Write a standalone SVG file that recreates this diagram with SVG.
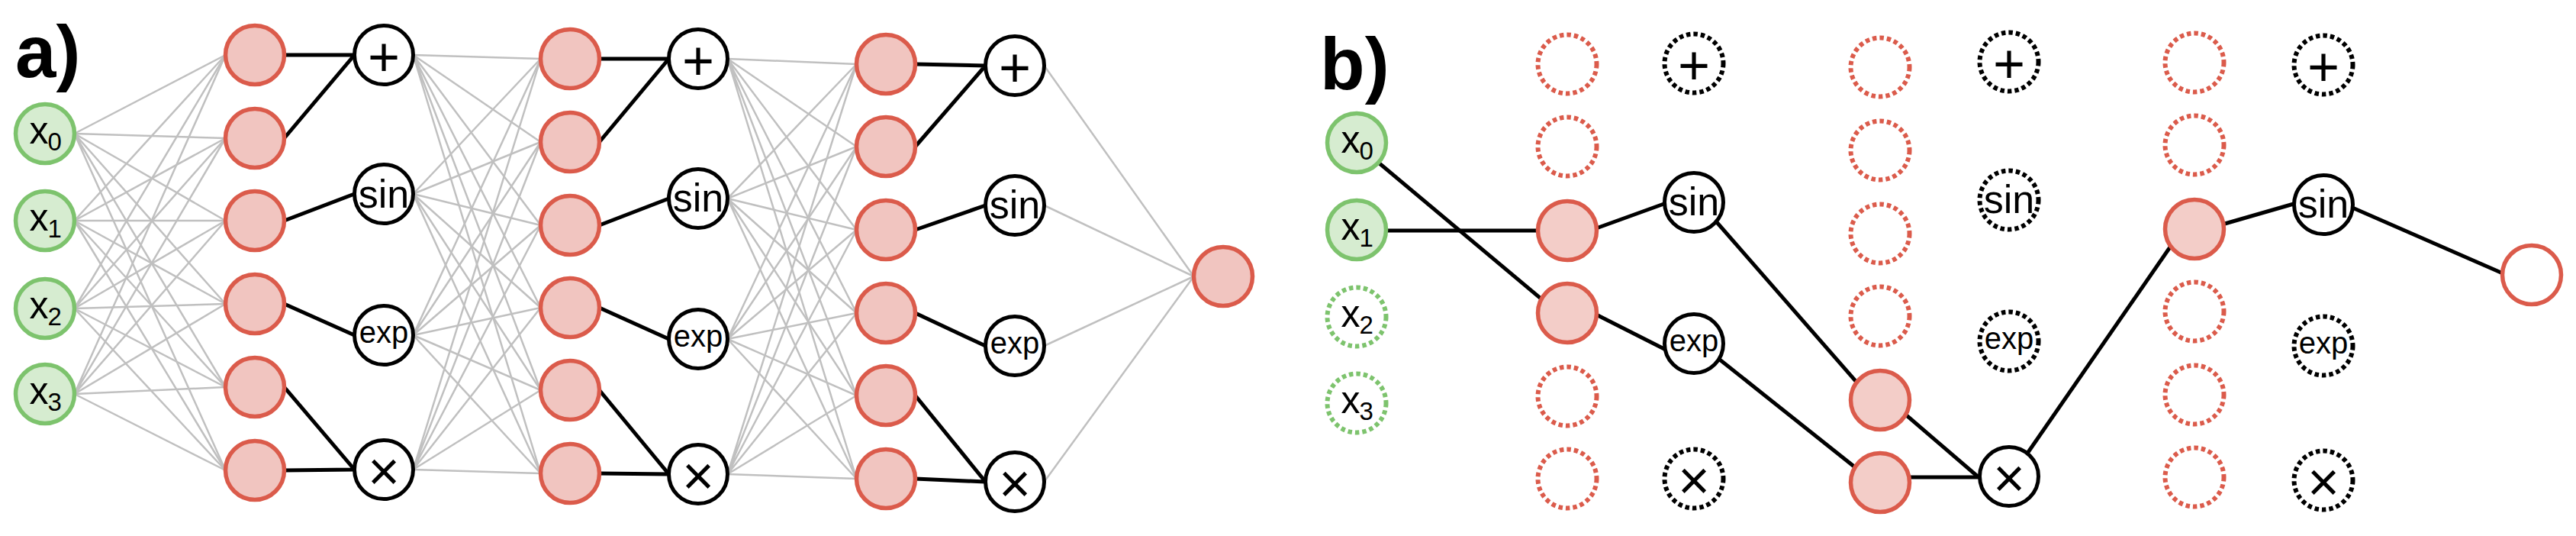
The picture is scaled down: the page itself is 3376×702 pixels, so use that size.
<svg xmlns="http://www.w3.org/2000/svg" width="3376" height="702" viewBox="0 0 3376 702">
<style>
text{font-family:"Liberation Sans",Arial,sans-serif;fill:#000}
.lbl{font-size:96px;font-weight:bold}
.xv{font-size:50px}
.xs{font-size:33px}
.pm{font-size:72px;text-anchor:middle}
.sin{font-size:52px;text-anchor:middle}
.exp{font-size:40px;text-anchor:middle}
.in{fill:#d6ecd0;stroke:#7dc36d;stroke-width:5.5}
.in-off{fill:#fff;stroke:#7dc36d;stroke-width:6;stroke-dasharray:5.5 4}
.hid{fill:#f1c5c0;stroke:#db5b4b;stroke-width:5.5}
.hidb{fill:#f3cdc8;stroke:#db5b4b;stroke-width:5.5}
.hid-off{fill:#fff;stroke:#db5b4b;stroke-width:6;stroke-dasharray:5.5 4}
.op{fill:#fff;stroke:#000;stroke-width:5}
.op-off{fill:#fff;stroke:#000;stroke-width:6;stroke-dasharray:5.5 4}
.out-b{fill:#fff;stroke:#db5b4b;stroke-width:5.5}
.gray{fill:none;stroke:#c0c0c0;stroke-width:2.5}
.blk{fill:none;stroke:#000;stroke-width:5}
</style>

<g id="labels">
<text class="lbl" x="20" y="101">a)</text>
<text class="lbl" x="1730" y="117">b)</text>
</g>

<g id="connectors">
<g id="a-gray">
<path class="gray" d="M97.5 175L295.5 72M97.5 175L295.5 181M97.5 175L295.5 289M97.5 175L295.5 398M97.5 175L295.5 507M97.5 175L295.5 616"/>
<path class="gray" d="M97.5 289L295.5 72M97.5 289L295.5 181M97.5 289L295.5 289M97.5 289L295.5 398M97.5 289L295.5 507M97.5 289L295.5 616"/>
<path class="gray" d="M97.5 404L295.5 72M97.5 404L295.5 181M97.5 404L295.5 289M97.5 404L295.5 398M97.5 404L295.5 507M97.5 404L295.5 616"/>
<path class="gray" d="M97.5 516L295.5 72M97.5 516L295.5 181M97.5 516L295.5 289M97.5 516L295.5 398M97.5 516L295.5 507M97.5 516L295.5 616"/>
<path class="gray" d="M541.5 72L708.5 77M541.5 72L708.5 186M541.5 72L708.5 295M541.5 72L708.5 403M541.5 72L708.5 511M541.5 72L708.5 620"/>
<path class="gray" d="M541.5 254L708.5 77M541.5 254L708.5 186M541.5 254L708.5 295M541.5 254L708.5 403M541.5 254L708.5 511M541.5 254L708.5 620"/>
<path class="gray" d="M541.5 439L708.5 77M541.5 439L708.5 186M541.5 439L708.5 295M541.5 439L708.5 403M541.5 439L708.5 511M541.5 439L708.5 620"/>
<path class="gray" d="M541.5 615L708.5 77M541.5 615L708.5 186M541.5 615L708.5 295M541.5 615L708.5 403M541.5 615L708.5 511M541.5 615L708.5 620"/>
<path class="gray" d="M953.5 77L1122.5 84M953.5 77L1122.5 192M953.5 77L1122.5 301M953.5 77L1122.5 410M953.5 77L1122.5 518M953.5 77L1122.5 627"/>
<path class="gray" d="M953.5 260L1122.5 84M953.5 260L1122.5 192M953.5 260L1122.5 301M953.5 260L1122.5 410M953.5 260L1122.5 518M953.5 260L1122.5 627"/>
<path class="gray" d="M953.5 444L1122.5 84M953.5 444L1122.5 192M953.5 444L1122.5 301M953.5 444L1122.5 410M953.5 444L1122.5 518M953.5 444L1122.5 627"/>
<path class="gray" d="M953.5 621L1122.5 84M953.5 621L1122.5 192M953.5 621L1122.5 301M953.5 621L1122.5 410M953.5 621L1122.5 518M953.5 621L1122.5 627"/>
<path class="gray" d="M1368.5 86L1564.5 362M1368.5 269L1564.5 362M1368.5 453L1564.5 362M1368.5 631L1564.5 362"/>
</g>
<g id="a-black">
<path class="blk" d="M372.5 72L464.5 72M372.5 181L464.5 72M372.5 289L464.5 254M372.5 398L464.5 439M372.5 507L464.5 615M372.5 616L464.5 615"/>
<path class="blk" d="M785.5 77L876.5 77M785.5 186L876.5 77M785.5 295L876.5 260M785.5 403L876.5 444M785.5 511L876.5 621M785.5 620L876.5 621"/>
<path class="blk" d="M1199.5 84L1291.5 86M1199.5 192L1291.5 86M1199.5 301L1291.5 269M1199.5 410L1291.5 453M1199.5 518L1291.5 631M1199.5 627L1291.5 631"/>
</g>
<g id="b-black">
<path class="blk" d="M1778 189L2054 420"/>
<path class="blk" d="M1778 302L2054 302"/>
<path class="blk" d="M2092 299L2182 266.5"/>
<path class="blk" d="M2092 412L2182 457.5"/>
<path class="blk" d="M2235 274L2445 514"/>
<path class="blk" d="M2235 456L2445 623"/>
<path class="blk" d="M2480 528L2593 625"/>
<path class="blk" d="M2480 625L2593 625"/>
<path class="blk" d="M2645 611L2860 300.5"/>
<path class="blk" d="M2914 293.5L3006 267"/>
<path class="blk" d="M3083 272L3280 358"/>
</g>
</g>

<!-- Panel a nodes -->
<g id="a-x0"><circle class="in" cx="59" cy="175" r="38.5"/><text class="xv" x="38.5" y="188">x</text><text class="xs" x="62.5" y="197">0</text></g>
<g id="a-x1"><circle class="in" cx="59" cy="289" r="38.5"/><text class="xv" x="38.5" y="302">x</text><text class="xs" x="62.5" y="311">1</text></g>
<g id="a-x2"><circle class="in" cx="59" cy="404" r="38.5"/><text class="xv" x="38.5" y="417">x</text><text class="xs" x="62.5" y="426">2</text></g>
<g id="a-x3"><circle class="in" cx="59" cy="516" r="38.5"/><text class="xv" x="38.5" y="529">x</text><text class="xs" x="62.5" y="538">3</text></g>

<g id="a-h1-1"><circle class="hid" cx="334" cy="72" r="38.5"/></g>
<g id="a-h1-2"><circle class="hid" cx="334" cy="181" r="38.5"/></g>
<g id="a-h1-3"><circle class="hid" cx="334" cy="289" r="38.5"/></g>
<g id="a-h1-4"><circle class="hid" cx="334" cy="398" r="38.5"/></g>
<g id="a-h1-5"><circle class="hid" cx="334" cy="507" r="38.5"/></g>
<g id="a-h1-6"><circle class="hid" cx="334" cy="616" r="38.5"/></g>

<g id="a-o1-plus"><circle class="op" cx="503" cy="72" r="38.5"/><text class="pm" x="503" y="99">+</text></g>
<g id="a-o1-sin"><circle class="op" cx="503" cy="254" r="38.5"/><text class="sin" x="503" y="272">sin</text></g>
<g id="a-o1-exp"><circle class="op" cx="503" cy="439" r="38.5"/><text class="exp" x="503" y="448.5">exp</text></g>
<g id="a-o1-mul"><circle class="op" cx="503" cy="615" r="38.5"/><text class="pm" x="503" y="642">×</text></g>

<g id="a-h2-1"><circle class="hid" cx="747" cy="77" r="38.5"/></g>
<g id="a-h2-2"><circle class="hid" cx="747" cy="186" r="38.5"/></g>
<g id="a-h2-3"><circle class="hid" cx="747" cy="295" r="38.5"/></g>
<g id="a-h2-4"><circle class="hid" cx="747" cy="403" r="38.5"/></g>
<g id="a-h2-5"><circle class="hid" cx="747" cy="511" r="38.5"/></g>
<g id="a-h2-6"><circle class="hid" cx="747" cy="620" r="38.5"/></g>

<g id="a-o2-plus"><circle class="op" cx="915" cy="77" r="38.5"/><text class="pm" x="915" y="104">+</text></g>
<g id="a-o2-sin"><circle class="op" cx="915" cy="260" r="38.5"/><text class="sin" x="915" y="277">sin</text></g>
<g id="a-o2-exp"><circle class="op" cx="915" cy="444" r="38.5"/><text class="exp" x="915" y="453.5">exp</text></g>
<g id="a-o2-mul"><circle class="op" cx="915" cy="621" r="38.5"/><text class="pm" x="915" y="648">×</text></g>

<g id="a-h3-1"><circle class="hid" cx="1161" cy="84" r="38.5"/></g>
<g id="a-h3-2"><circle class="hid" cx="1161" cy="192" r="38.5"/></g>
<g id="a-h3-3"><circle class="hid" cx="1161" cy="301" r="38.5"/></g>
<g id="a-h3-4"><circle class="hid" cx="1161" cy="410" r="38.5"/></g>
<g id="a-h3-5"><circle class="hid" cx="1161" cy="518" r="38.5"/></g>
<g id="a-h3-6"><circle class="hid" cx="1161" cy="627" r="38.5"/></g>

<g id="a-o3-plus"><circle class="op" cx="1330" cy="86" r="38.5"/><text class="pm" x="1330" y="113">+</text></g>
<g id="a-o3-sin"><circle class="op" cx="1330" cy="269" r="38.5"/><text class="sin" x="1330" y="286">sin</text></g>
<g id="a-o3-exp"><circle class="op" cx="1330" cy="453" r="38.5"/><text class="exp" x="1330" y="462.5">exp</text></g>
<g id="a-o3-mul"><circle class="op" cx="1330" cy="631" r="38.5"/><text class="pm" x="1330" y="658">×</text></g>

<g id="a-out"><circle class="hid" cx="1603" cy="362" r="38.5"/></g>

<!-- Panel b nodes -->
<g id="b-x0"><circle class="in" cx="1778" cy="187" r="38.5"/><text class="xv" x="1757.5" y="200">x</text><text class="xs" x="1781.5" y="209">0</text></g>
<g id="b-x1"><circle class="in" cx="1778" cy="301" r="38.5"/><text class="xv" x="1757.5" y="314">x</text><text class="xs" x="1781.5" y="323">1</text></g>
<g id="b-x2"><circle class="in-off" cx="1778" cy="415" r="38.5"/><text class="xv" x="1757.5" y="428">x</text><text class="xs" x="1781.5" y="437">2</text></g>
<g id="b-x3"><circle class="in-off" cx="1778" cy="528" r="38.5"/><text class="xv" x="1757.5" y="541">x</text><text class="xs" x="1781.5" y="550">3</text></g>

<g id="b-h1-1"><circle class="hid-off" cx="2054" cy="84" r="38.5"/></g>
<g id="b-h1-2"><circle class="hid-off" cx="2054" cy="192" r="38.5"/></g>
<g id="b-h1-3"><circle class="hidb" cx="2054" cy="302" r="38.5"/></g>
<g id="b-h1-4"><circle class="hidb" cx="2054" cy="410" r="38.5"/></g>
<g id="b-h1-5"><circle class="hid-off" cx="2054" cy="519" r="38.5"/></g>
<g id="b-h1-6"><circle class="hid-off" cx="2054" cy="627" r="38.5"/></g>

<g id="b-o1-plus"><circle class="op-off" cx="2220" cy="83" r="38.5"/><text class="pm" x="2220" y="110">+</text></g>
<g id="b-o1-sin"><circle class="op" cx="2220" cy="265" r="38.5"/><text class="sin" x="2220" y="282">sin</text></g>
<g id="b-o1-exp"><circle class="op" cx="2220" cy="450" r="38.5"/><text class="exp" x="2220" y="459.5">exp</text></g>
<g id="b-o1-mul"><circle class="op-off" cx="2220" cy="627" r="38.5"/><text class="pm" x="2220" y="654">×</text></g>

<g id="b-h2-1"><circle class="hid-off" cx="2464" cy="88" r="38.5"/></g>
<g id="b-h2-2"><circle class="hid-off" cx="2464" cy="197" r="38.5"/></g>
<g id="b-h2-3"><circle class="hid-off" cx="2464" cy="306" r="38.5"/></g>
<g id="b-h2-4"><circle class="hid-off" cx="2464" cy="414" r="38.5"/></g>
<g id="b-h2-5"><circle class="hidb" cx="2464" cy="524" r="38.5"/></g>
<g id="b-h2-6"><circle class="hidb" cx="2464" cy="632" r="38.5"/></g>

<g id="b-o2-plus"><circle class="op-off" cx="2633" cy="81" r="38.5"/><text class="pm" x="2633" y="108">+</text></g>
<g id="b-o2-sin"><circle class="op-off" cx="2633" cy="262" r="38.5"/><text class="sin" x="2633" y="279">sin</text></g>
<g id="b-o2-exp"><circle class="op-off" cx="2633" cy="447" r="38.5"/><text class="exp" x="2633" y="456.5">exp</text></g>
<g id="b-o2-mul"><circle class="op" cx="2633" cy="624" r="38.5"/><text class="pm" x="2633" y="651">×</text></g>

<g id="b-h3-1"><circle class="hid-off" cx="2876" cy="82" r="38.5"/></g>
<g id="b-h3-2"><circle class="hid-off" cx="2876" cy="190" r="38.5"/></g>
<g id="b-h3-3"><circle class="hidb" cx="2876" cy="300" r="38.5"/></g>
<g id="b-h3-4"><circle class="hid-off" cx="2876" cy="408" r="38.5"/></g>
<g id="b-h3-5"><circle class="hid-off" cx="2876" cy="517" r="38.5"/></g>
<g id="b-h3-6"><circle class="hid-off" cx="2876" cy="625" r="38.5"/></g>

<g id="b-o3-plus"><circle class="op-off" cx="3045" cy="85" r="38.5"/><text class="pm" x="3045" y="112">+</text></g>
<g id="b-o3-sin"><circle class="op" cx="3045" cy="268" r="38.5"/><text class="sin" x="3045" y="285">sin</text></g>
<g id="b-o3-exp"><circle class="op-off" cx="3045" cy="453" r="38.5"/><text class="exp" x="3045" y="462.5">exp</text></g>
<g id="b-o3-mul"><circle class="op-off" cx="3045" cy="629" r="38.5"/><text class="pm" x="3045" y="656">×</text></g>

<g id="b-out"><circle class="out-b" cx="3318" cy="360" r="38.5"/></g>
</svg>
